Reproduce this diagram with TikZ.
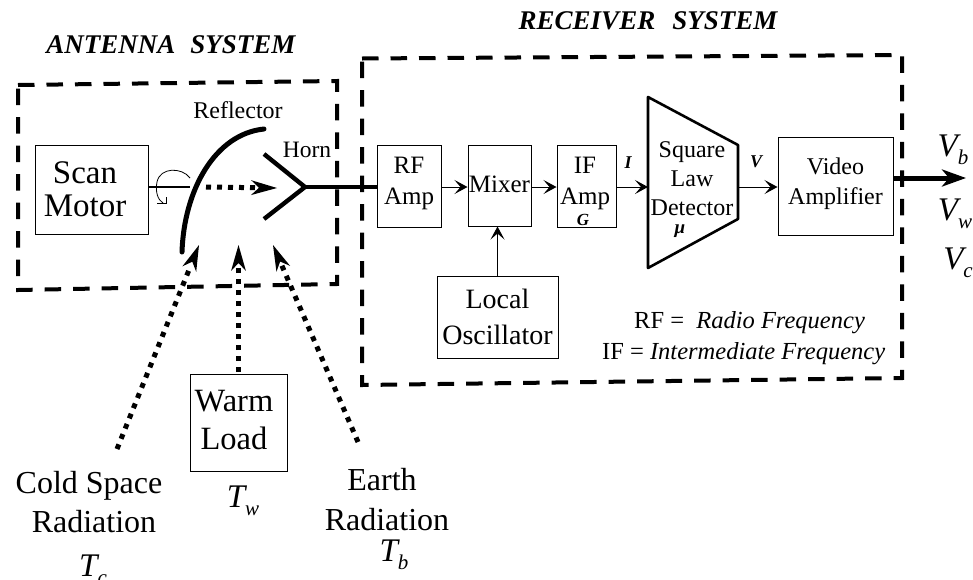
\documentclass[tikz,border=0pt]{standalone}
\usepackage{fontspec}
\setmainfont{Liberation Serif}
\usetikzlibrary{arrows.meta,calc}
\tikzset{
  blockbox/.style={draw,line width=1pt,inner sep=0pt,align=center},
  lab/.style={inner sep=0pt,align=center},
  sysbox/.style={line width=4pt,dash pattern=on 16.5pt off 12pt},
  thin arrow/.style={line width=1pt,-{Stealth[length=13pt,width=14pt,inset=6pt]}},
  dotarrow/.style={line width=5pt,dash pattern=on 5pt off 6pt},
  vlab/.style={inner sep=0pt,font=\fontsize{33}{33}\selectfont\itshape},
}
\newcommand{\blk}[4]{\node[blockbox,minimum width=#3 pt,minimum height=#4 pt] (#1) at (#2) {};}
\newcommand{\vsub}[2]{#1\raisebox{-8pt}{\fontsize{21}{21}\selectfont #2}}
\begin{document}
\begin{tikzpicture}[x=1pt,y=-1pt]
\useasboundingbox (0,0) rectangle (973,579);
% system boxes
\coordinate (a1) at (18,85); \coordinate (a2) at (337,81); \coordinate (a3) at (337,284); \coordinate (a4) at (18,290);
\draw[sysbox] (a1) -- (a2) -- (a3) -- (a4) -- cycle;
\coordinate (r1) at (362,58.5); \coordinate (r2) at (902,55); \coordinate (r3) at (902,378); \coordinate (r4) at (362,385);
\draw[sysbox] (r1) -- (r2) -- (r3) -- (r4) -- cycle;
\node[lab,font=\fontsize{27}{27}\selectfont\bfseries\itshape] (anttitle) at (171,45) {ANTENNA\hspace{15pt}SYSTEM};
\node[lab,font=\fontsize{27}{27}\selectfont\bfseries\itshape] (rectitle) at (648,21) {RECEIVER\hspace{17pt}SYSTEM};
% blocks
\blk{scan}{91.5,189.5}{113}{89}
\node[lab,font=\fontsize{33}{33}\selectfont] (scantext) at (85,189) {Scan\\Motor};
\blk{rf}{409,186}{64}{82}
\node[lab,font=\fontsize{25}{31}\selectfont] (rftext) at (409,183) {RF\\Amp};
\blk{mixer}{499.5,185.5}{63}{81}
\node[lab,font=\fontsize{25}{25}\selectfont] (mixertext) at (499.5,184) {Mixer};
\blk{ifamp}{586.5,186}{59}{82}
\node[lab,font=\fontsize{25}{31}\selectfont] (iftext) at (585,183) {IF\\Amp};
\node[lab,font=\fontsize{17}{17}\selectfont\bfseries\itshape] (gain) at (583,220) {G};
\blk{lo}{497.5,317}{121}{82}
\node[lab,font=\fontsize{28}{36}\selectfont] (lotext) at (497.5,317) {Local\\Oscillator};
\blk{warm}{238.5,422.5}{97}{97}
\node[lab,font=\fontsize{32.5}{38}\selectfont] (warmtext) at (234,420) {Warm\\Load};
\blk{video}{835.5,186}{115}{98}
\node[lab,font=\fontsize{24}{30}\selectfont] (videotext) at (835.5,184) {Video\\Amplifier};
% detector
\coordinate (d1) at (648,97); \coordinate (d2) at (738,145); \coordinate (d3) at (738,219); \coordinate (d4) at (648,268);
\draw[line width=2.6pt,line join=round] (d1) -- (d2) -- (d3) -- (d4) -- cycle;
\coordinate (din) at (648,187); \coordinate (dout) at (738,187);
\node[lab,font=\fontsize{24}{29}\selectfont] (dettext) at (692,179) {Square\\Law\\Detector};
\node[lab,font=\fontsize{19}{19}\selectfont\bfseries\itshape] (mu) at (680,231) {μ};
% signal chain
\draw[thin arrow] (rf.east|-din) -- (mixer.west|-din);
\draw[thin arrow] (mixer.east|-din) -- (ifamp.west|-din);
\draw[thin arrow] (ifamp.east|-din) -- (din);
\draw[thin arrow] (dout) -- (video.west|-din);
\draw[thin arrow] (lo.north) -- (lo.north|-mixer.south);
\node[lab,font=\fontsize{18}{18}\selectfont\bfseries\itshape] (ilab) at (628,163) {I};
\node[lab,font=\fontsize{18}{18}\selectfont\bfseries\itshape] (vsig) at (756,162) {V};
% output
\coordinate (outtip) at (966,178);
\draw[line width=5pt,-{Stealth[length=24pt,width=17pt,inset=7pt]}] (video.east|-outtip) -- (outtip);
\node[vlab] (vb) at (953,150) {\vsub{V}{b}};
\node[vlab] (vw) at (955,214) {\vsub{V}{w}};
\node[vlab] (vc) at (958,263) {\vsub{V}{c}};
% reflector
\coordinate (refa) at (182,252); \coordinate (refb) at (264,129);
\draw[line width=5pt,line cap=round] (refa) .. controls (184,190) and (215,134) .. (refb);
\node[lab,font=\fontsize{24}{24}\selectfont] (reflab) at (238,110) {Reflector};
% horn
\coordinate (apex) at (305,187); \coordinate (hu) at (264,154); \coordinate (hd) at (264,219);
\draw[line width=4.4pt,line join=round] (hu) -- (apex) -- (hd);
\draw[line width=4.4pt] (apex) -- (rf.west|-apex);
\node[lab,font=\fontsize{23.5}{24}\selectfont] (hornlab) at (307,150) {Horn};
% shaft and rotation
\coordinate (shaftend) at (190,187);
\draw[line width=2pt] (scan.east|-shaftend) -- (shaftend);
\coordinate (rota) at (190,178); \coordinate (rotb) at (163,203);
\draw[line width=0.8pt] (rota) .. controls (182,167) and (160,167) .. (157,182) .. controls (155,192) and (158,200) .. (rotb);
\draw[line width=0.8pt] (157,203) -- (166,203) -- (166,197);
% dotted rays
\coordinate (b1) at (206,187); \coordinate (b2) at (277,188);
\coordinate (c1) at (117,449); \coordinate (c2) at (199,245);
\coordinate (w1) at (238.5,372); \coordinate (w2) at (238.5,245);
\coordinate (e1) at (358,442); \coordinate (e2) at (273,245);
\foreach \s/\t in {b1/b2,c1/c2,w1/w2,e1/e2}{
  \draw[dotarrow] (\s) -- ($(\t)!22pt!(\s)$);
  \fill (\t) -- ($(\t)!27pt!16:(\s)$) -- ($(\t)!18pt!(\s)$) -- ($(\t)!27pt!-16:(\s)$) -- cycle;
}
% bottom labels
\node[lab,font=\fontsize{32}{39}\selectfont] (cold) at (89,502) {Cold Space\\\hspace{10pt}Radiation};
\node[lab,font=\fontsize{32}{40}\selectfont] (earth) at (387,500) {\hspace{-10pt}Earth\\Radiation};
\node[vlab] (tc) at (93,570) {\vsub{T}{c}};
\node[vlab] (tw) at (243,501) {\vsub{T}{w}};
\node[vlab] (tb) at (394,555) {\vsub{T}{b}};
% legend
\node[lab,anchor=west,font=\fontsize{24.5}{24.5}\selectfont] (leg1) at (634,323) {RF = \ \textit{Radio Frequency}};
\node[lab,anchor=west,font=\fontsize{24.5}{24.5}\selectfont] (leg2) at (602,354) {IF = \textit{Intermediate Frequency}};
\end{tikzpicture}
\end{document}
